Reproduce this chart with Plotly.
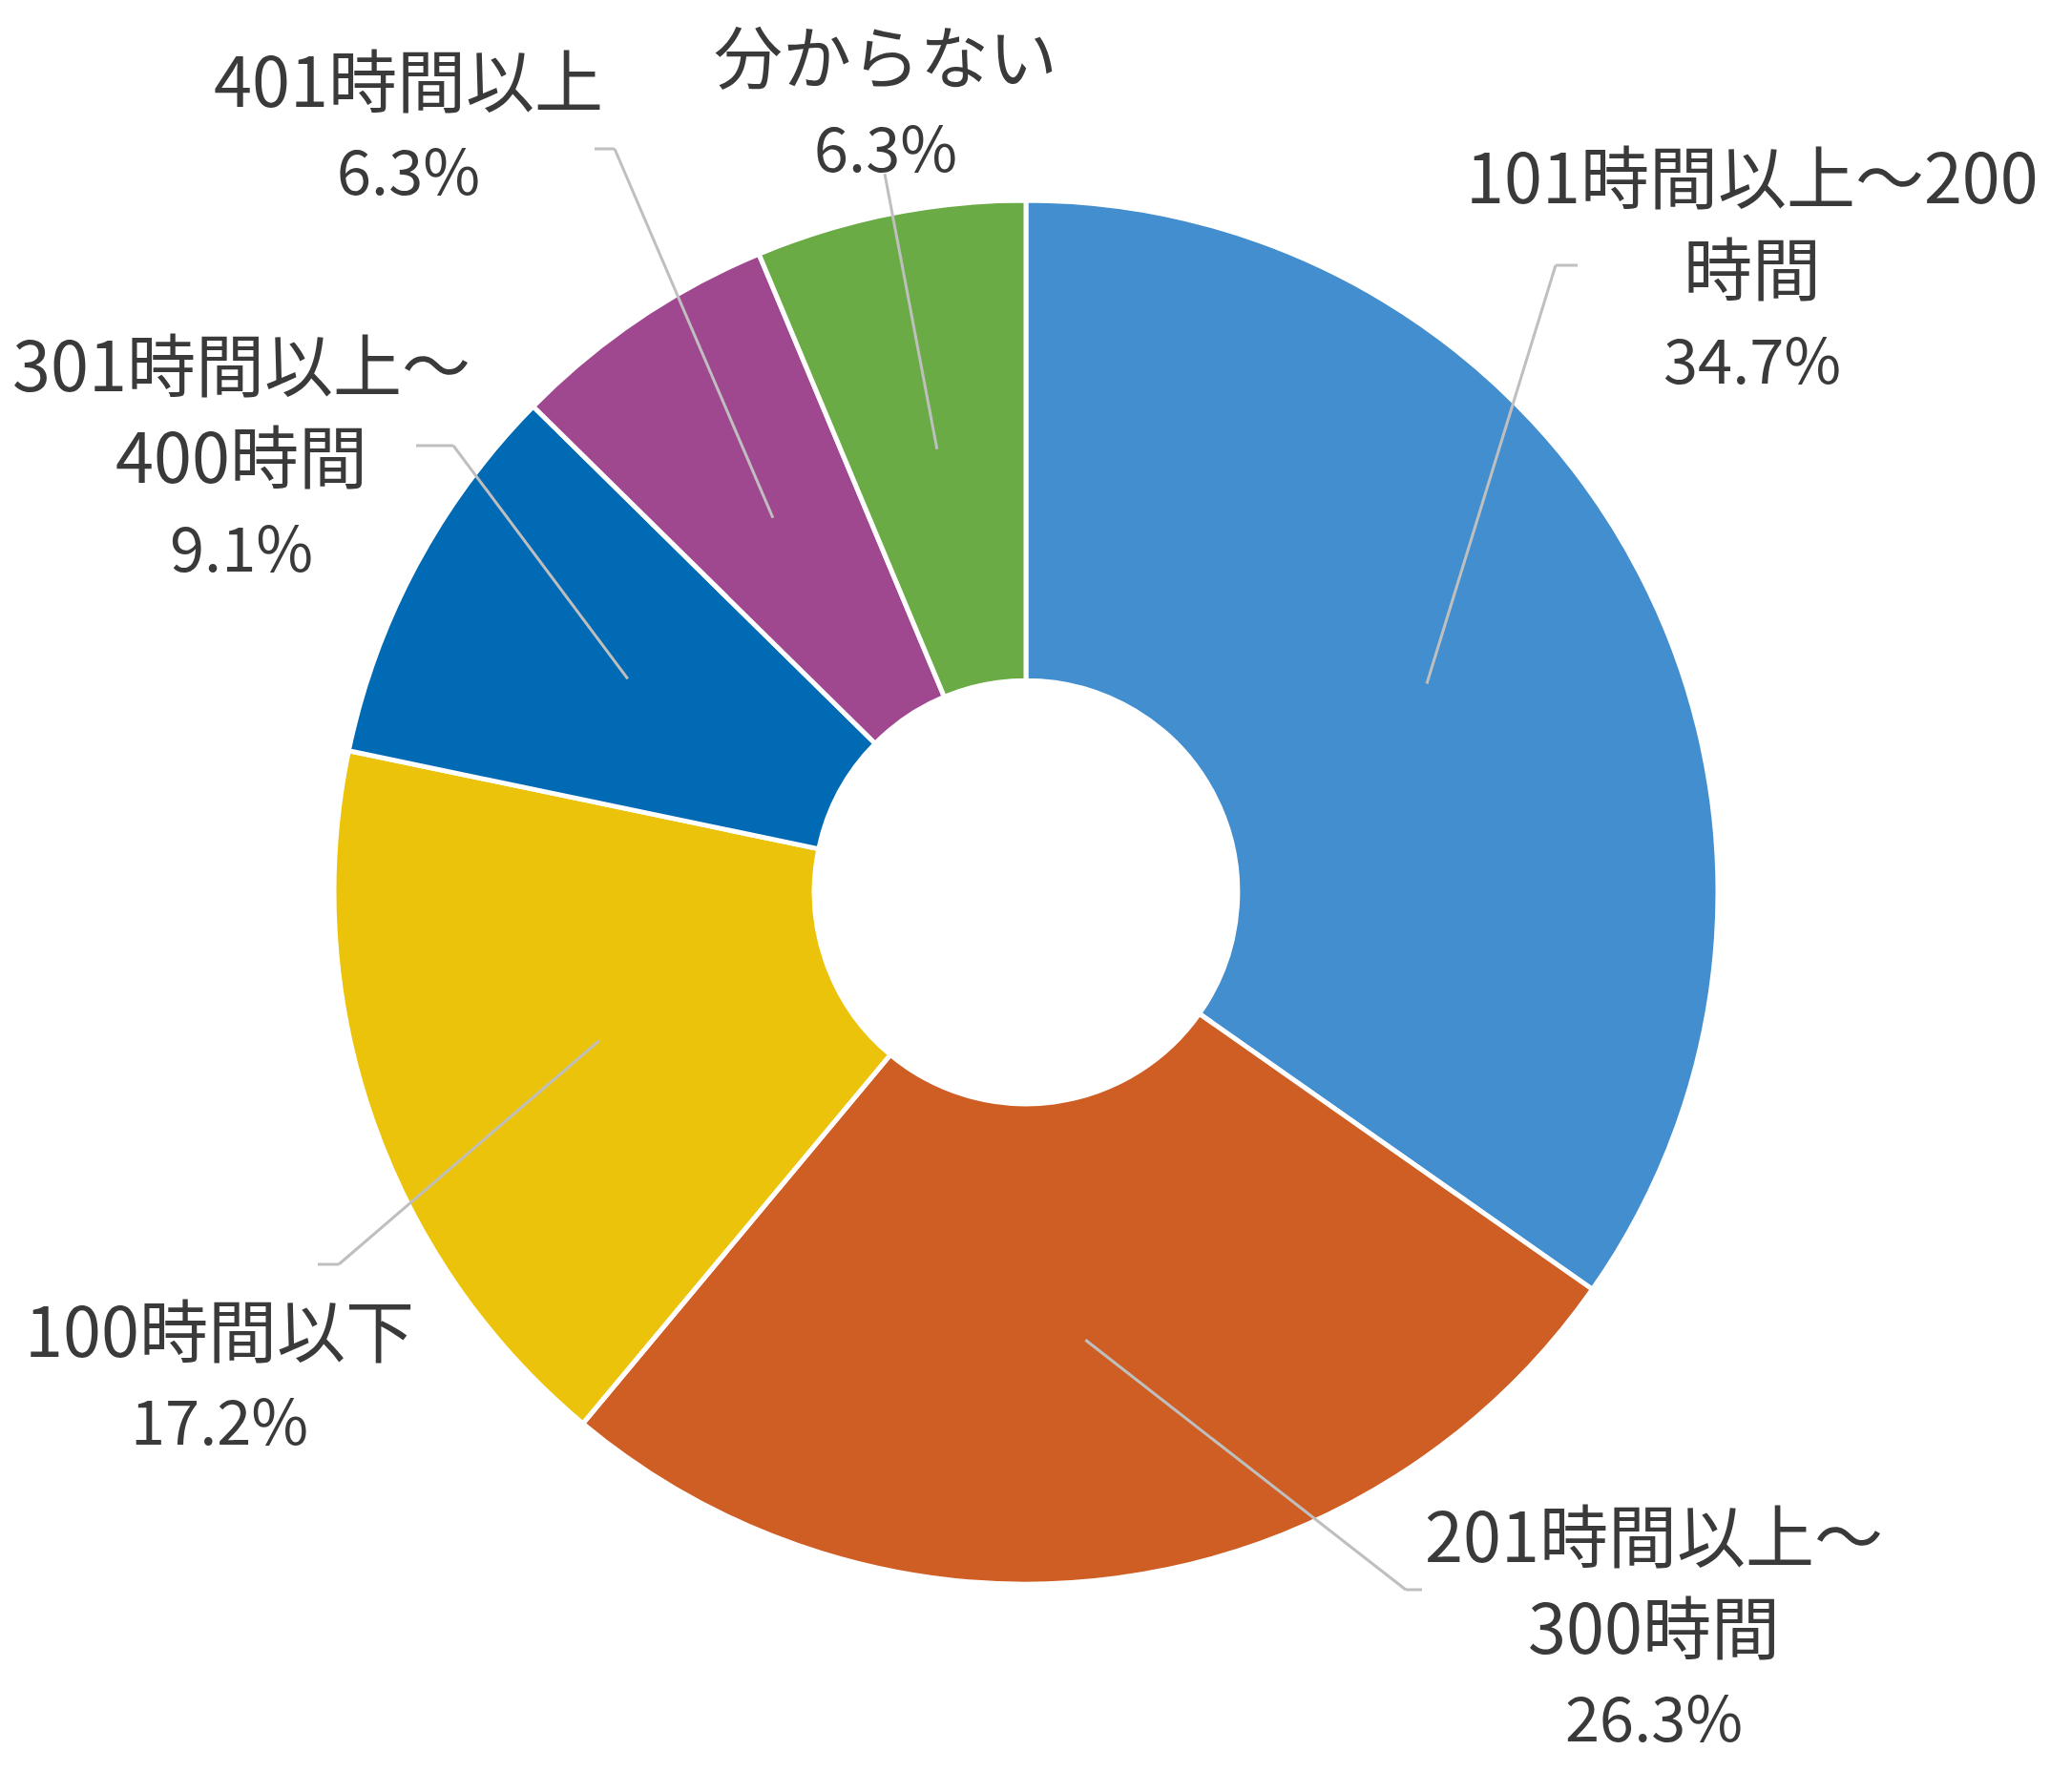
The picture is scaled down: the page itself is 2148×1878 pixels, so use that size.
import math
import plotly.graph_objects as go

# ---- data ----
categories = ["101時間以上～200時間", "201時間以上～300時間", "100時間以下",
              "301時間以上～400時間", "401時間以上", "分からない"]
values = [34.7, 26.3, 17.2, 9.1, 6.3, 6.3]
label_lines = [["101時間以上～200", "時間"], ["201時間以上～", "300時間"], ["100時間以下"],
               ["301時間以上～", "400時間"], ["401時間以上"], ["分からない"]]
colors = ["#428ECE", "#CF5E24", "#ECC30B", "#006AB5", "#A0488F", "#6AAB46"]

W, H = 2148, 1878
CX, CY, R = 1075, 935, 725
HOLE = 0.306

# label layout (pixel positions of label centers and leader elbows)
label_x = [1836, 1733, 230, 253, 428, 928]
label_top = [182, 1605, 1390, 379, 80, 56]
line_gap = 96
elbows = [[(1630, 278), (1653, 278)],
          [(1473, 1666), (1490, 1666)],
          [(355, 1325), (333, 1325)],
          [(475, 467), (436, 467)],
          [(644, 156), (623, 156)],
          [(927, 182)]]

def px(x):
    return x / W

def py(y):
    return 1 - y / H

fig = go.Figure(go.Pie(
    labels=categories, values=values, sort=False, direction="clockwise", rotation=0,
    hole=HOLE, marker=dict(colors=colors, line=dict(color="white", width=5)),
    textinfo="none", hoverinfo="label+percent", showlegend=False,
    domain=dict(x=[px(CX - R), px(CX + R)], y=[py(CY + R), py(CY - R)]),
))

total = sum(values)
cum = 0
shapes = []
annotations = []
for i, v in enumerate(values):
    mid = (cum + v / 2) / total * 2 * math.pi
    cum += v
    r = (1 + HOLE) / 2 * R
    sx = CX + r * math.sin(mid)
    sy = CY - r * math.cos(mid)
    pts = [(sx, sy)] + elbows[i]
    for (x0, y0), (x1, y1) in zip(pts[:-1], pts[1:]):
        shapes.append(dict(type="line", xref="paper", yref="paper",
                           x0=px(x0), y0=py(y0), x1=px(x1), y1=py(y1),
                           line=dict(color="#BFBFBF", width=3)))
    lines = label_lines[i] + [f"{v:.1f}%"]
    for j, t in enumerate(lines):
        size = 65 if t.endswith("%") else 72
        annotations.append(dict(text=t, xref="paper", yref="paper",
                                x=px(label_x[i]), y=py(label_top[i] + j * line_gap),
                                xanchor="center", yanchor="middle", showarrow=False,
                                font=dict(family="Noto Sans CJK JP", size=size, color="#3A3A3A")))

fig.update_layout(width=W, height=H, margin=dict(l=0, r=0, t=0, b=0),
                  paper_bgcolor="white", plot_bgcolor="white",
                  shapes=shapes, annotations=annotations)
fig.write_html("out.html")
